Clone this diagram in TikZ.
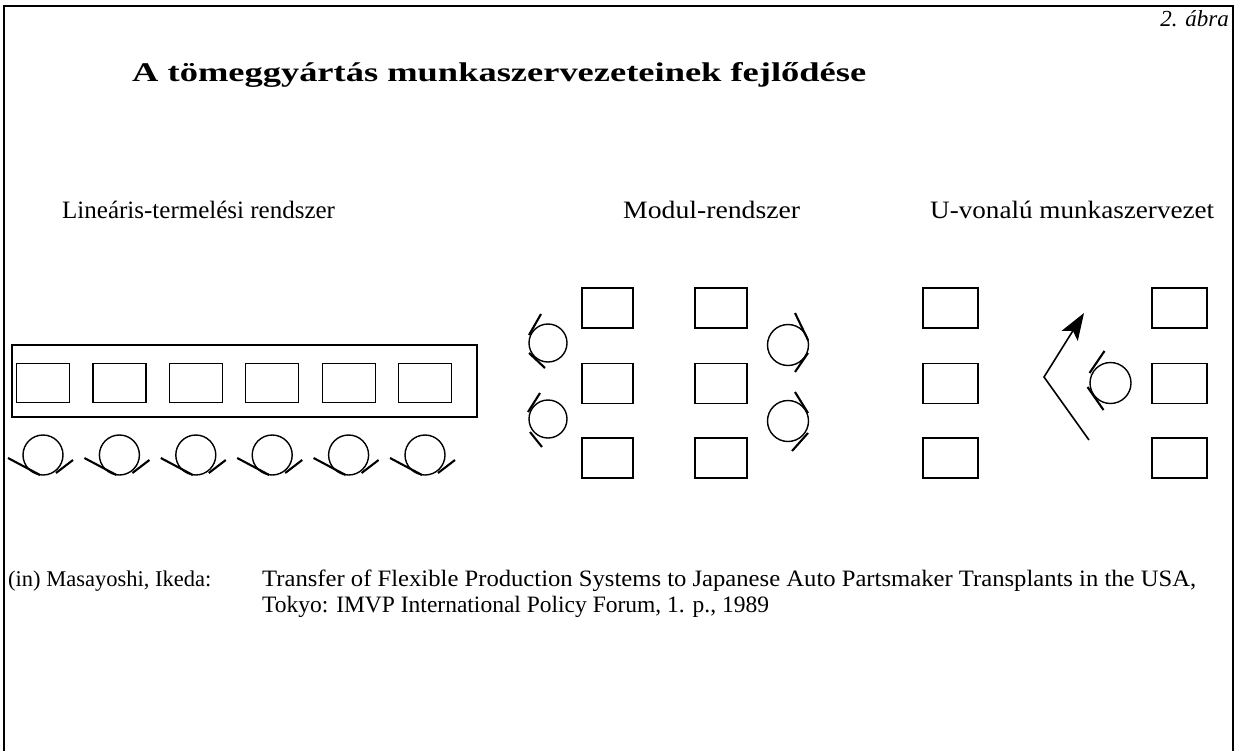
\documentclass[tikz,border=0pt]{standalone}
\usepackage{fontspec}
\usepackage{graphicx}
\setmainfont{Liberation Serif}
\usetikzlibrary{arrows.meta,calc}
\newcommand{\stretchto}[2]{\resizebox{#1}{\height}{#2}}
\begin{document}
\begin{tikzpicture}[x=1pt,y=-1pt,
  station/.style={draw, line width=1.2pt, minimum width=53pt, minimum height=39pt, inner sep=0pt, outer sep=0pt},
  ustation/.style={station, minimum width=55pt, minimum height=40pt},
  worker/.style={draw, circle, minimum size=40pt, inner sep=0pt, outer sep=0pt, line width=1.4pt},
  tick/.style={line width=2.1pt},
  lbl/.style={font=\fontsize{25}{30}\selectfont, inner sep=0pt, anchor=base west},
  foot/.style={font=\fontsize{23.5}{28}\selectfont, inner sep=0pt, anchor=base west},
  frame/.style={line width=1.6pt}]
\useasboundingbox (0,0) rectangle (1242,750);
% frame
\coordinate (fbl) at (4,752);
\coordinate (ftl) at (4,6);
\coordinate (ftr) at (1233,6);
\coordinate (fbr) at (1233,752);
\draw[frame] (fbl) -- (ftl) -- (ftr) -- (fbr);
% header
\node[font=\fontsize{23}{28}\selectfont\itshape, inner sep=0pt, anchor=base east] (abra) at (1229,26) {2. ábra};
\node[font=\fontsize{27}{32}\selectfont\bfseries, inner sep=0pt, anchor=base west] (title) at (132,81) {\stretchto{734pt}{A tömeggyártás munkaszervezeteinek fejlődése}};
% labels
\node[lbl] (l1) at (62,218) {Lineáris-termelési rendszer};
\node[lbl] (l2) at (623,218) {\stretchto{177pt}{Modul-rendszer}};
\node[lbl] (l3) at (930,218) {\stretchto{284pt}{U-vonalú munkaszervezet}};
% linear system
\node[draw, line width=1.3pt, minimum width=465pt, minimum height=72pt, inner sep=0pt] (belt) at (244.5,381) {};
\foreach \i in {0,...,5} {
  \node[station] (b\i) at ({43+76.4*\i},383) {};
  \node[worker, minimum size=40pt] (w\i) at ({43+76.4*\i},455) {};
  \draw[tick] ($(w\i)+(-35,3)$) -- ($(w\i)+(-3,20)$);
  \draw[tick] ($(w\i)+(30,5)$) -- ($(w\i)+(13,18)$);
}
% modul system
\foreach \r/\y in {1/308,2/383.5,3/458} {
  \node[station, minimum width=51pt, minimum height=40pt] (ml\r) at (607.5,\y) {};
  \node[station, minimum width=52pt, minimum height=40pt] (mr\r) at (721,\y) {};
}
\node[worker, minimum size=38pt] (mw1) at (548,343) {};
\node[worker, minimum size=38pt] (mw2) at (548,419) {};
\node[worker, minimum size=41pt] (mw3) at (788,345) {};
\node[worker, minimum size=41pt] (mw4) at (788,421) {};
\draw[tick] ($(mw1)+(-7,-29)$) -- ($(mw1)+(-19,-8)$);
\draw[tick] ($(mw1)+(-19,10)$) -- ($(mw1)+(-3,25)$);
\draw[tick] ($(mw2)+(-8,-26)$) -- ($(mw2)+(-20,-7)$);
\draw[tick] ($(mw2)+(-18,13)$) -- ($(mw2)+(-6,28)$);
\draw[tick] ($(mw3)+(7,-32)$) -- ($(mw3)+(20,-5)$);
\draw[tick] ($(mw3)+(20,8)$) -- ($(mw3)+(7,27)$);
\draw[tick] ($(mw4)+(7,-29)$) -- ($(mw4)+(20,-8)$);
\draw[tick] ($(mw4)+(20,12)$) -- ($(mw4)+(4,30)$);
% U-line
\foreach \r/\y in {1/308,2/383.5,3/458} {
  \node[ustation] (ul\r) at (950.5,\y) {};
  \node[ustation] (ur\r) at (1179.5,\y) {};
}
\coordinate (ua) at (1089,440);
\coordinate (ub) at (1044,377);
\coordinate (uc) at (1084,313);
\draw[line width=1.6pt, -{Stealth[length=27pt,width=19pt,inset=6pt]}] (ua) -- (ub) -- (uc);
\node[worker, minimum size=41pt] (uw) at (1110.5,383) {};
\draw[tick] ($(uw)+(-6,-32)$) -- ($(uw)+(-21,-10)$);
\draw[tick] ($(uw)+(-23,4)$) -- ($(uw)+(-7,27)$);
% footer
\node[foot, font=\fontsize{22.5}{27}\selectfont] (src) at (8,586) {(in) Masayoshi, Ikeda:};
\node[foot] (ref1) at (262,586) {\stretchto{934pt}{Transfer of Flexible Production Systems to Japanese Auto Partsmaker Transplants in the USA,}};
\node[foot] (ref2) at (262,612) {Tokyo: IMVP International Policy Forum, 1. p., 1989};
\end{tikzpicture}
\end{document}
